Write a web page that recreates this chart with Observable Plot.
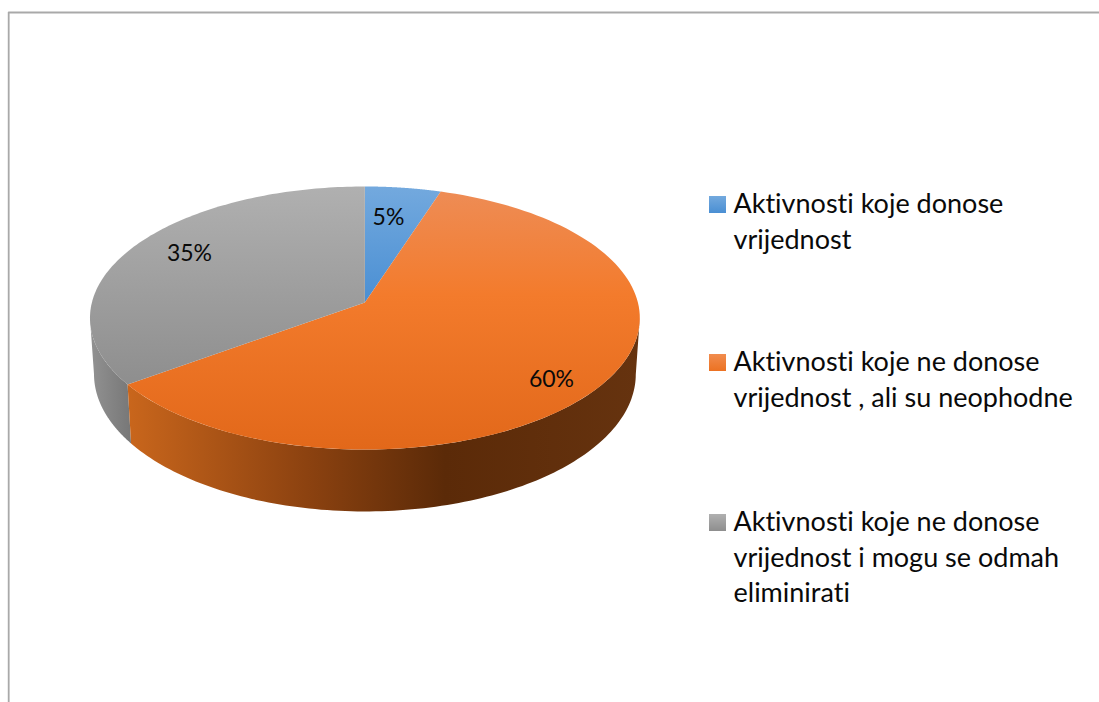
<!DOCTYPE html>
<html>
<head>
<meta charset="utf-8">
<style>html,body{margin:0;padding:0;background:#fff}svg{display:block}svg text{font-variant-ligatures:none}</style>
<script src="https://cdn.jsdelivr.net/npm/d3@7"></script>
<script src="https://cdn.jsdelivr.net/npm/@observablehq/plot@0.6"></script>
</head>
<body>
<script>
const categories = ["Aktivnosti koje donose vrijednost", "Aktivnosti koje ne donose vrijednost , ali su neophodne", "Aktivnosti koje ne donose vrijednost i mogu se odmah eliminirati"];
const shares = [5, 60, 35];
const percentLabels = ["5%", "60%", "35%"];
const labelX = [388, 551, 189];
const labelY = [217, 379, 253];
const legendLines = [["Aktivnosti koje donose", "vrijednost"], ["Aktivnosti koje ne donose", "vrijednost , ali su neophodne"], ["Aktivnosti koje ne donose", "vrijednost i mogu se odmah", "eliminirati"]];
const legendX = 733;
const legendY = [204, 362, 522];
const frameX = 8.2;
const frameY = 12;

const topFace = {cx: 364.4, r: 273, a: 94.1, b: 302, c: -0.1179};
const baseFace = {cx: 364.4, r: 269, a: 93.2, b: 357.5, c: -0.1179};
const project = (f, t) => {
  const u = Math.sin(t), v = -Math.cos(t), d = 1 + f.c * v;
  return {x: f.cx + f.r * u / d, y: (f.a * v + f.b) / d};
};
const arc = (f, t0, t1) => d3.range(0, 121).map(i => project(f, t0 + (t1 - t0) * i / 120));
const arcs = d3.pie().sort(null).value(d => d)(shares);
const wedges = arcs.map(a => [{x: topFace.cx, y: topFace.b}, ...arc(topFace, a.startAngle, a.endAngle)]);
wedges.forEach(w => w.push(w[0]));
const sideOf = (t0, t1) => { const p = [...arc(topFace, t0, t1), ...arc(baseFace, t1, t0)]; p.push(p[0]); return p; };
const tangent = Math.acos(topFace.c);
const orangeSide = sideOf(tangent, arcs[1].endAngle);
const greySide = sideOf(arcs[2].startAngle, 2 * Math.PI - tangent);

const grad = (id, stops, horizontal) => {
  const g = d3.create("svg:linearGradient").attr("id", id).attr("x1", 0).attr("y1", 0).attr("x2", horizontal ? 1 : 0).attr("y2", horizontal ? 0 : 1);
  stops.forEach(([o, c]) => g.append("stop").attr("offset", o).attr("stop-color", c));
  return g.node();
};
const defs = () => {
  const d = d3.create("svg:defs");
  [grad("gBlue", [[0, "#73a9de"], [1, "#4a8fd3"]]),
   grad("gOrange", [[0, "#ee8c55"], [0.4, "#f37b2c"], [1, "#e2681a"]]),
   grad("gGrey", [[0, "#b0b0b0"], [1, "#8e8e8e"]]),
   grad("gOrangeSide", [[0, "#c9661c"], [0.35, "#8c4210"], [0.62, "#5b2a08"], [1, "#66330f"]], true),
   grad("gGreySide", [[0, "#929292"], [1, "#777777"]], true),
   grad("sBlue", [[0, "#73a9de"], [1, "#4a8fd3"]]),
   grad("sOrange", [[0, "#f18c4e"], [1, "#ec7222"]]),
   grad("sGrey", [[0, "#b0b0b0"], [1, "#8e8e8e"]])
  ].forEach(n => d.node().append(n));
  return d.node();
};
const fills = ["url(#gBlue)", "url(#gOrange)", "url(#gGrey)"];
const swatchFills = ["url(#sBlue)", "url(#sOrange)", "url(#sGrey)"];
const poly = (pts, fill) => Plot.line(pts, {x: "x", y: "y", fill, stroke: "none"});

const legendText = legendLines.flatMap((lines, i) => lines.map((t, j) => ({t, x: legendX, y: legendY[i] + j * 35.5})));
const plot = Plot.plot({
  width: 1099, height: 702, margin: 0,
  x: {type: "linear", domain: [0, 1099], range: [0, 1099], axis: null},
  y: {type: "linear", domain: [0, 702], range: [0, 702], axis: null},
  style: {background: "#fff"},
  marks: [
    defs,
    Plot.ruleX([frameX], {y1: frameY, y2: 702, stroke: "#a9a9a9", strokeWidth: 1.8}),
    Plot.ruleY([frameY], {x1: frameX, x2: 1099, stroke: "#a9a9a9", strokeWidth: 1.8}),
    poly(greySide, "url(#gGreySide)"),
    poly(orangeSide, "url(#gOrangeSide)"),
    ...wedges.map((w, i) => poly(w, fills[i])),
    Plot.text(percentLabels, {x: (d, i) => labelX[i], y: (d, i) => labelY[i], text: d => d, fontSize: 23, fontFamily: "Lato", fill: "#0a0a0a"}),
    Plot.rect(categories, {x1: () => legendX - 24, x2: () => legendX - 7, y1: (d, i) => legendY[i] - 8, y2: (d, i) => legendY[i] + 9, fill: (d, i) => swatchFills[i]}),
    Plot.text(legendText, {x: "x", y: "y", text: "t", textAnchor: "start", fontSize: 27, fontFamily: "Lato", fill: "#0a0a0a"})
  ]
});
document.body.append(plot);
</script>
</body>
</html>
